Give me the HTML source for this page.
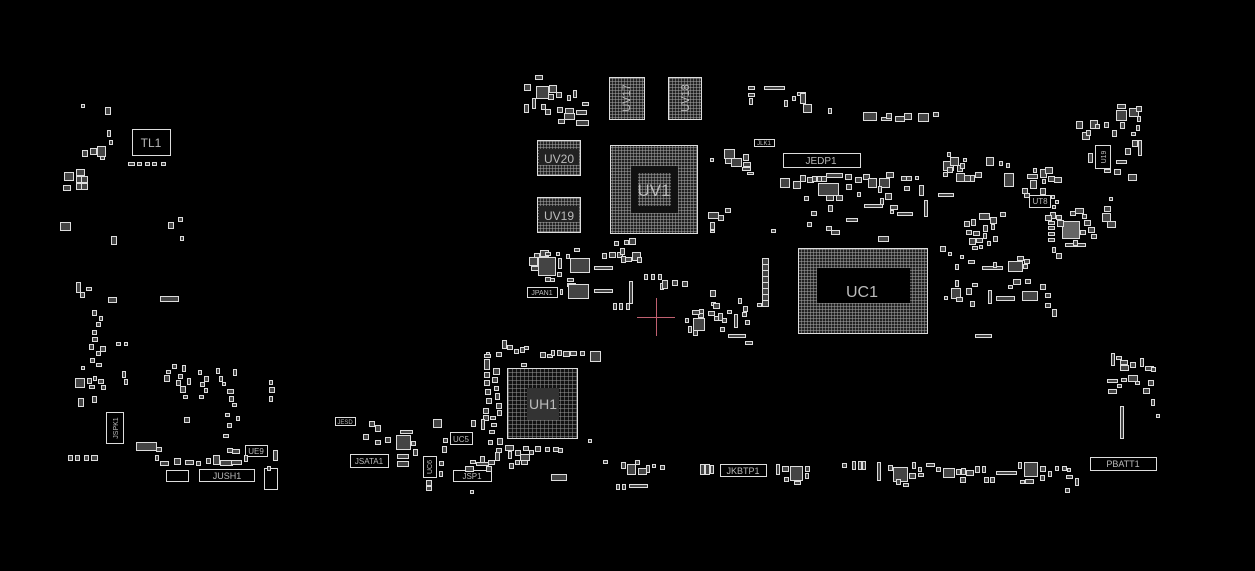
<!DOCTYPE html>
<html><head><meta charset="utf-8"><style>
html,body{margin:0;padding:0;background:#000;width:1255px;height:571px;overflow:hidden}
svg{display:block}
text{font-family:"Liberation Sans",sans-serif;fill:#bbb}
</style></head><body>
<svg id="s" width="1255" height="571" viewBox="0 0 1255 571" xmlns="http://www.w3.org/2000/svg">
<defs>
<pattern id="g" width="3" height="3" patternUnits="userSpaceOnUse"><rect width="3" height="3" fill="#222"/><path d="M0 0H3M0 0V3" stroke="#aaa" stroke-width="1"/></pattern>
<pattern id="g2" width="4" height="4" patternUnits="userSpaceOnUse"><rect width="4" height="4" fill="#111"/><path d="M0 0H4M0 0V4" stroke="#999" stroke-width="1"/></pattern>
</defs>
<rect width="1255" height="571" fill="#000"/>
<g stroke="#ddd" stroke-width="1">
<!-- memory -->
<rect x="609.5" y="77.5" width="35" height="42" fill="url(#g)"/>
<rect x="668.5" y="77.5" width="33" height="42" fill="url(#g)"/>
<rect x="537.5" y="140.5" width="43" height="35" fill="url(#g)"/>
<rect x="537.5" y="197.5" width="43" height="35" fill="url(#g)"/>
<rect x="539" y="149" width="40" height="16" fill="#222" stroke="none"/>
<rect x="539" y="206" width="40" height="16" fill="#222" stroke="none"/>
<!-- UV1 -->
<rect x="610.5" y="145.5" width="87" height="88" fill="url(#g)"/>
<rect x="631" y="166" width="47" height="47" fill="#111" stroke="none"/>
<rect x="638" y="173" width="33" height="33" fill="url(#g)" stroke="none"/>
<!-- UC1 -->
<rect x="798.5" y="248.5" width="129" height="85" fill="url(#g)"/>
<rect x="817" y="268" width="93" height="35" fill="#000" stroke="none"/>
<!-- UH1 -->
<rect x="507.5" y="368.5" width="70" height="70" fill="url(#g2)"/>
<rect x="527" y="388" width="32" height="32" fill="#333" stroke="none"/>
<!-- TL1 -->
<rect x="132.5" y="129.5" width="38" height="26" fill="none"/>
<!-- connectors -->
<rect x="783.5" y="153.5" width="77" height="14" fill="none"/>
<rect x="720.5" y="464.5" width="46" height="12" fill="none"/>
<rect x="1090.5" y="457.5" width="66" height="13" fill="none"/>
<rect x="199.5" y="469.5" width="55" height="12" fill="none"/>
<rect x="350.5" y="454.5" width="38" height="13" fill="none"/>
<rect x="453.5" y="470.5" width="38" height="11" fill="none"/>
<rect x="106.5" y="412.5" width="17" height="31" fill="none"/>
<rect x="450.5" y="432.5" width="22" height="12" fill="none"/>
<rect x="245.5" y="445.5" width="22" height="11" fill="none"/>
<rect x="527.5" y="287.5" width="30" height="10" fill="none"/>
<rect x="1029.5" y="195.5" width="21" height="12" fill="none"/>
<rect x="423.5" y="456.5" width="13" height="21" fill="none"/>
<rect x="754.5" y="139.5" width="20" height="7" fill="none"/>
<rect x="335.5" y="417.5" width="20" height="8" fill="none"/>
<rect x="166.5" y="470.5" width="22" height="11" fill="none"/>
<rect x="264.5" y="468.5" width="13" height="21" fill="none"/>
<rect x="1095.5" y="145.5" width="15" height="23" fill="none"/>
<rect x="1062.5" y="221.5" width="17" height="17" fill="#666"/>
</g>
<g id="sm" stroke="#ddd" stroke-width="1" fill="#444"></g>
<g fill="#bbb" font-size="12" text-anchor="middle">
<text x="151" y="147">TL1</text>
<text x="559" y="163">UV20</text>
<text x="559" y="220">UV19</text>
<text x="654" y="196" font-size="17" fill="#999">UV1</text>
<text x="862" y="297" font-size="16" fill="#999">UC1</text>
<text x="543" y="409" font-size="14" fill="#777">UH1</text>
<text x="821" y="164" font-size="10">JEDP1</text>
<text x="743" y="474" font-size="9">JKBTP1</text>
<text x="1123" y="467" font-size="9">PBATT1</text>
<text x="227" y="479" font-size="9">JUSH1</text>
<text x="369" y="464" font-size="8">JSATA1</text>
<text x="472" y="479" font-size="8">JSP1</text>
<text x="461" y="442" font-size="8">UC5</text>
<text x="256" y="454" font-size="8">UE9</text>
<text x="542" y="295" font-size="7">JPAN1</text>
<text x="1040" y="204" font-size="8">UT8</text>
<text x="764" y="145" font-size="6">JLK1</text>
<text x="345" y="424" font-size="6">JESD</text>
<text transform="translate(630,98) rotate(-90)" font-size="11">UV17</text>
<text transform="translate(689,98) rotate(-90)" font-size="11">UV18</text>
<text transform="translate(118,428) rotate(-90)" font-size="7">JSPK1</text>
<text transform="translate(432,467) rotate(-90)" font-size="7">UC6</text>
<text transform="translate(1106,157) rotate(-90)" font-size="7">U19</text>
</g>
<g stroke="#c06070" stroke-width="1"><path d="M637 317.5H675M656.5 298V336"/></g>
</svg>
<script>
var R=[[524,84,6,6],[536,86,12,12],[549,85,7,7],[532,98,3,10],[524,104,4,8],[541,104,4,5],[548,94,5,5],[556,92,5,5],[545,109,5,5],[557,107,5,5],[565,108,8,5],[564,113,10,6],[576,110,10,4],[573,90,3,7],[567,95,3,5],[582,102,6,3],[558,119,6,4],[535,75,7,4],[576,120,12,5],
[748,86,6,3],[748,93,6,3],[764,86,20,3],[797,92,8,3],[784,100,3,6],[792,96,3,4],[800,93,5,10],[803,104,8,8],[828,108,3,5],[749,98,3,6],[863,112,13,8],[881,117,10,3],[886,113,5,5],[895,116,9,5],[904,113,7,6],[918,113,10,8],[933,112,5,4],
[710,158,3,3],[724,149,10,9],[725,158,7,5],[731,158,10,8],[743,154,5,6],[743,162,7,4],[742,167,8,3],[747,172,6,2],[708,212,10,6],[718,215,5,5],[710,222,4,7],[710,230,4,2],[725,208,5,4],
[780,178,9,9],[793,181,7,7],[800,175,5,6],[807,177,6,5],[812,176,4,5],[817,176,4,5],[821,176,5,5],[826,173,16,4],[845,174,6,5],[818,183,20,12],[846,184,5,5],[855,177,6,5],[863,174,6,5],[868,178,8,9],[879,178,10,9],[886,172,7,5],[901,176,5,4],[906,176,5,4],[915,176,3,3],[885,193,6,6],[878,186,3,6],[880,198,3,6],[904,186,5,4],[919,185,4,10],[826,195,7,5],[836,195,6,5],[828,205,4,6],[804,196,4,4],[864,204,18,3],[897,212,15,3],[890,205,7,4],[857,192,3,4],[811,211,5,4],[807,222,4,4],[826,226,5,4],[831,230,8,4],[846,218,11,3],[890,210,3,3],[924,200,3,16],[878,236,10,5],
[938,193,15,3],[943,172,4,4],[947,152,3,4],[943,161,10,9],[950,157,8,8],[947,167,5,5],[957,165,5,6],[963,158,3,3],[960,163,4,5],[956,173,8,8],[964,175,6,6],[970,175,4,6],[975,172,6,5],[986,157,7,8],[999,161,3,4],[1006,163,3,4],[1004,173,9,13],[1027,174,10,4],[1030,180,6,8],[1040,169,6,8],[1045,167,7,6],[1048,176,6,5],[1054,177,7,5],[1042,179,3,4],[1033,168,3,4],[1040,188,5,6],[1024,193,5,4],[1022,188,5,5],[1051,195,3,3],[1055,200,3,3],[1052,205,3,3],[1050,212,5,6],[1045,215,6,5],[1056,215,5,4],[1057,220,6,6],[1048,221,6,3],[1048,226,6,3],[1048,232,6,3],[1048,238,6,3],[1052,247,3,5],[1065,243,20,3],[1073,240,4,5],[1080,230,5,4],[1082,214,4,4],[1070,211,5,4],[1075,208,8,5],[1084,220,6,5],[1088,227,6,5],[1091,234,5,4],[1102,213,8,8],[1107,221,8,6],[1109,197,3,3],[1104,206,6,5],[1128,174,8,6],[1104,169,6,3],
[1082,132,7,7],[1090,120,7,8],[1095,124,4,4],[1104,122,4,5],[1117,104,8,4],[1116,110,10,10],[1120,122,4,6],[1129,108,9,8],[1136,106,5,5],[1112,130,4,6],[1131,132,4,3],[1137,116,3,5],[1136,125,3,5],[1132,140,5,6],[1138,140,3,15],[1125,148,5,6],[1088,153,4,9],[1114,169,6,5],[1116,160,10,3],[1076,121,6,7],[1086,130,4,5],
[964,221,5,5],[971,219,4,6],[979,213,10,6],[990,217,6,6],[983,225,4,6],[1000,212,5,4],[991,224,3,5],[966,230,5,4],[973,231,6,4],[969,238,6,6],[976,238,6,4],[983,233,3,5],[979,245,3,3],[972,246,5,3],[993,236,4,5],[987,241,3,4],[948,252,3,3],[960,255,3,3],[955,264,3,5],[968,260,6,3],[982,266,20,3],[993,262,3,5],[1008,261,14,10],[1017,256,6,4],[1024,259,5,4],[1023,264,4,4],[1013,279,7,5],[1025,279,5,4],[1008,285,4,3],[996,296,18,4],[1022,291,15,9],[1040,284,5,5],[1045,293,5,4],[1045,303,5,4],[1052,309,4,7],[1056,253,5,5],[955,280,3,6],[951,288,9,10],[956,297,6,4],[966,288,5,6],[972,283,5,3],[988,290,3,13],[970,301,4,5],[944,296,3,3],[975,334,16,3],[940,246,5,5],
[534,253,5,6],[540,250,8,6],[529,257,8,8],[531,266,7,4],[538,257,17,18],[545,252,5,3],[556,252,3,3],[558,258,3,10],[545,277,5,4],[557,272,4,4],[550,278,4,3],[566,254,3,4],[570,258,19,14],[574,248,5,3],[567,278,6,3],[567,283,8,3],[568,284,20,14],[560,289,2,5],[594,266,18,3],[594,289,18,3],[629,281,3,22],[602,253,4,5],[609,252,6,5],[617,252,5,5],[620,248,4,6],[614,241,4,4],[624,240,4,4],[629,238,6,6],[621,256,4,6],[625,257,6,4],[632,252,8,8],[637,257,4,5],[644,274,3,5],[651,274,3,5],[658,274,3,5],[660,283,3,6],[662,280,5,8],[672,280,5,5],[682,281,5,5],[613,303,3,6],[619,303,3,6],[626,303,3,6],
[762,258,6,6],[762,264,6,6],[762,270,6,6],[762,276,6,6],[762,282,6,6],[762,288,6,6],[762,294,6,6],[762,300,6,6],[757,303,4,3],[738,298,3,5],[743,306,4,5],[742,312,4,4],[745,320,4,4],[728,334,17,3],[734,314,3,13],[727,310,4,3],[708,311,6,4],[710,290,5,6],[711,302,4,3],[693,318,11,12],[698,313,5,4],[685,318,3,4],[688,326,3,6],[693,330,4,5],[714,316,5,4],[718,313,4,7],[722,318,4,4],[720,327,4,4],[713,303,6,5],[692,310,7,4],[699,309,4,4],[745,341,7,3],
[771,229,4,3],
[486,352,3,4],[496,352,5,4],[502,340,4,8],[507,345,5,4],[514,349,4,4],[520,347,4,5],[524,346,4,3],[540,352,5,5],[547,354,5,3],[551,350,3,5],[557,350,4,5],[563,351,6,5],[570,351,6,4],[580,351,4,4],[590,351,10,10],[521,363,5,3],[484,354,6,3],[484,359,5,10],[484,372,5,5],[484,380,5,5],[485,389,5,5],[486,398,5,5],[483,408,5,5],[483,415,5,5],[493,368,6,6],[492,377,5,5],[494,386,4,4],[495,393,4,6],[496,403,5,5],[497,410,4,5],[490,416,5,3],[491,423,5,3],[489,430,5,3],[481,419,3,10],[471,420,4,6],[488,440,4,4],[497,438,5,6],[496,448,5,4],[505,445,8,5],[515,450,5,5],[520,454,9,6],[523,446,5,4],[529,450,4,4],[535,446,5,5],[545,447,4,4],[553,447,5,4],[558,448,4,4],[588,439,3,3],[480,456,4,6],[495,452,4,8],[488,460,6,4],[508,451,3,7],[515,460,4,4],[470,460,5,3],[476,462,12,3],[465,466,8,5],[486,466,5,5],[509,463,4,5],[521,460,6,4],[551,474,15,6],[470,490,3,3],
[400,430,12,3],[396,435,14,14],[411,441,4,4],[413,449,4,6],[397,454,11,4],[397,461,11,5],[369,421,5,5],[375,425,5,6],[363,434,5,5],[375,440,5,4],[385,437,5,5],[433,419,8,8],[443,438,4,4],[442,446,4,6],[439,461,4,4],[439,471,3,5],[426,480,5,5],[426,486,5,4],
[603,460,4,3],[621,462,4,6],[627,464,8,10],[635,460,4,4],[638,468,8,6],[646,465,3,7],[652,464,3,3],[660,465,4,4],[629,484,18,3],[616,484,3,5],[622,484,3,5],[700,464,4,10],[705,464,4,10],[710,465,3,8],[776,464,3,10],[782,466,6,5],[790,466,12,14],[784,477,4,4],[794,481,6,3],[805,466,4,5],[805,473,3,5],[842,463,4,4],[852,461,3,8],[858,461,3,8],[862,461,3,8],[877,462,3,18],[888,465,4,5],[893,467,14,14],[896,479,4,5],[903,483,5,3],[909,473,6,5],[912,462,3,6],[918,467,3,4],[918,473,5,3],[926,463,8,3],[936,467,4,4],[943,468,11,9],[956,469,4,5],[961,468,4,6],[966,470,7,5],[975,466,4,6],[982,466,3,6],[960,477,5,5],[984,477,4,5],[990,477,4,5],[996,471,20,3],[1018,462,3,6],[1024,462,13,14],[1025,479,8,4],[1040,466,5,5],[1040,475,4,5],[1048,471,3,5],[1055,466,3,4],[1062,466,4,4],[1066,475,6,3],[1067,468,3,3],[1075,478,3,7],[1065,488,4,4],[1020,480,4,3],
[1111,353,3,12],[1116,356,5,3],[1120,360,7,4],[1120,365,8,5],[1130,362,5,5],[1140,358,3,8],[1145,366,8,4],[1128,375,9,6],[1121,378,5,3],[1107,379,10,3],[1108,389,8,4],[1117,384,4,3],[1135,381,4,3],[1148,380,5,5],[1143,388,6,5],[1151,399,3,6],[1156,414,3,3],[1120,406,3,32],[1151,367,4,4],
[81,104,3,3],[105,107,5,7],[82,150,5,6],[90,148,6,6],[97,146,8,10],[100,156,4,3],[107,130,3,6],[109,140,3,4],[128,162,6,3],[137,162,4,3],[145,162,4,3],[152,162,4,3],[161,162,4,3],[64,172,9,8],[76,169,8,6],[76,176,6,6],[81,176,6,6],[63,185,7,5],[76,183,5,6],[81,183,6,6],[60,222,10,8],[111,236,5,8],[168,222,5,6],[178,217,4,4],[180,236,3,4],[76,282,4,10],[80,292,4,5],[86,287,5,3],[108,297,8,5],[160,296,18,5],[92,310,4,5],[99,316,3,4],[96,322,4,4],[92,330,4,4],[92,337,5,4],[89,344,4,5],[100,346,5,5],[96,351,4,4],[90,358,4,4],[96,363,5,3],[81,366,3,3],[93,376,3,4],[75,378,9,9],[87,378,4,5],[89,385,5,3],[98,379,5,4],[101,385,4,4],[92,396,4,6],[78,398,5,8],[116,342,4,3],[124,342,3,3],[122,371,3,6],[124,379,3,5],[166,370,4,3],[164,375,5,6],[172,364,4,4],[182,365,3,6],[176,380,4,5],[180,386,5,6],[178,374,4,4],[187,378,3,6],[183,395,4,3],[198,370,3,4],[204,376,4,5],[200,382,4,4],[204,388,3,4],[199,395,4,3],[216,368,3,5],[219,376,3,5],[222,382,3,3],[227,389,6,4],[229,396,4,5],[232,403,4,3],[225,413,4,3],[236,416,3,4],[227,423,4,4],[223,434,5,3],[269,380,3,4],[269,387,5,5],[269,396,3,5],[184,417,5,5],[233,369,3,6],[136,442,20,8],[156,447,5,4],[155,455,3,5],[160,461,8,4],[174,458,6,6],[185,460,8,4],[196,461,4,4],[206,458,4,5],[213,455,6,9],[220,460,12,5],[231,460,10,4],[244,455,3,6],[232,449,7,4],[227,448,5,4],[273,450,4,10],[68,455,4,5],[75,455,4,5],[84,455,4,5],[91,455,6,5],[267,466,3,4]
];
var g=document.getElementById('sm'),s='';
R.forEach(function(r){s+='<rect x="'+(r[0]+.5)+'" y="'+(r[1]+.5)+'" width="'+r[2]+'" height="'+r[3]+'"/>';});
g.innerHTML=s;
</script>
</body></html>
